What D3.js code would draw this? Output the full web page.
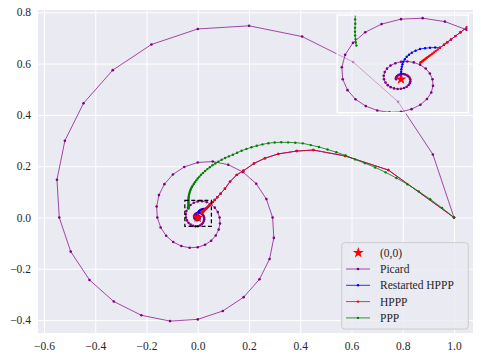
<!DOCTYPE html>
<html><head><meta charset="utf-8">
<script src="https://cdn.jsdelivr.net/npm/d3@7"></script>
<style>body{margin:0;background:#fff} svg text{font-family:"Liberation Serif","Times New Roman",serif;}</style></head>
<body>
<svg id="c" width="481" height="359"></svg>
<script>
// ---------------- data ----------------
const xTicks = [-0.6, -0.4, -0.2, 0.0, 0.2, 0.4, 0.6, 0.8, 1.0];
const yTicks = [-0.4, -0.2, 0.0, 0.2, 0.4, 0.6, 0.8];
const seriesNames = ["(0,0)", "Picard", "Restarted HPPP", "HPPP", "PPP"];
const originX = [0];
const originY = [0];

const picardX = [1, .9176, .7816, .6063, .4073, .2003, 0, -.1807, -.3317, -.4457, -.5185, -.5494, -.5404, -.4958, -.4223, -.3276, -.2201, -.1082, 0, .0977, .1792, .2408, .2802, .2969,
 .2920, .2679, .2282, .1770, .1189, .0585, 0, -.0528, -.0969, -.1301, -.1514, -.1604, -.1578, -.1448, -.1233, -.0957, -.0643, -.0316, 0, .0285, .0523, .0703, .0818, .0867,
 .0853, .0782, .0666, .0517, .0347, .0171, 0, -.0154, -.0283, -.0380, -.0442, -.0468, -.0461, -.0423, -.0360, -.0279, -.0188, -.0092, 0, .0083, .0153, .0205, .0239, .0253,
 .0249, .0228, .0195, .0151, .0101, .0050, 0, -.0045, -.0083, -.0111, -.0129, -.0137, -.0135, -.0123, -.0105, -.0082, -.0055, -.0027, 0, .0024, .0045, .0060, .0070, .0074,
 .0073, .0067, .0057, .0044, .0030, .0015, 0, -.0013, -.0024, -.0032, -.0038, -.0040, -.0039];
const picardY = [0, .2459, .4513, .6063, .7054, .7474, .7351, .6745, .5745, .4457, .2994, .1472, 0, -.1329, -.2438, -.3276, -.3812, -.4039, -.3972, -.3645, -.3105, -.2408, -.1618, -.0796,
 0, .0718, .1318, .1770, .2059, .2182, .2146, .1970, .1678, .1301, .0874, .0430, 0, -.0388, -.0712, -.0957, -.1113, -.1179, -.1160, -.1064, -.0906, -.0703, -.0472, -.0232,
 0, .0210, .0385, .0517, .0601, .0637, .0627, .0575, .0490, .0380, .0255, .0126, 0, -.0113, -.0208, -.0279, -.0325, -.0344, -.0339, -.0311, -.0265, -.0205, -.0138, -.0068,
 0, .0061, .0112, .0151, .0176, .0186, .0183, .0168, .0143, .0111, .0075, .0037, 0, -.0033, -.0061, -.0082, -.0095, -.0101, -.0099, -.0091, -.0077, -.0060, -.0040, -.0020,
 0, .0018, .0033, .0044, .0051, .0054, .0053, .0049, .0042, .0032, .0022, .0011, 0];

const restartX = [1, .7436, .575, .451, .386, .314, .262, .2195, .178, .152, .126, .106, .089, .076, .066, .058, .052, .047, .043, .0395, .0365, .034, .0308,
 .027, .0229, .019, .0150, .0115, .0085, .0063, .0045, .0030, .0018, .0011, .0006, .0003, .0001, 0, 0, 0, 0];
const restartY = [0, .1852, .240, .263, .259, .248, .231, .211, .182, .166, .140, .112, .093, .079, .068, .060, .054, .049, .045, .0415, .0385, .036, .0329,
 .0331, .0329, .0324, .0316, .0298, .0277, .0256, .0235, .0209, .0183, .0157, .0131, .0105, .0079, .0055, .0033, .0015, .0005];

const hpppX = [1, .7436, .575, .451, .386, .314, .262, .2195, .178, .152, .126, .106, .089, .076, .066, .058, .052, .047, .043, .0395,
 .0365, .034, .0308, .0290, .0274, .0260, .0247, .0235, .0224, .0214, .0205, .0196, .0188, .0181, .0174, .0168, .0162, .0157, .0152];
const hpppY = [0, .1852, .240, .263, .259, .248, .231, .211, .182, .166, .140, .112, .093, .079, .068, .060, .054, .049, .045, .0415,
 .0385, .036, .0329, .0310, .0294, .0280, .0267, .0255, .0244, .0234, .0225, .0216, .0208, .0201, .0194, .0188, .0182, .0177, .0172];

const pppX = [1, .9533, .9073, .8622, .8181, .7750, .7330, .6922, .6525, .6140, .5769, .5410, .5064, .4730, .4410, .4101, .3808, .3526, .3258, .3001,
 .2757, .2524, .2304, .2096, .1898, .1712, .1536, .1370, .1214, .1068, .0931, .0804, .0685, .0574, .0471, .0375, .0287, .0206, .0131, .0063,
 0, -.0057, -.0109, -.0155, -.0197, -.0234, -.0268, -.0293, -.0312, -.0329, -.0341, -.0351, -.0357, -.0361, -.0362, -.0363, -.0362, -.0364, -.0364, -.0363, -.0360, -.0358, -.0353];
const pppY = [0, .0375, .0714, .1020, .1296, .1542, .1760, .1952, .2120, .2265, .2419, .2544, .2650, .2749, .2822, .2891, .2917, .2930, .2932, .2924,
 .2897, .2851, .2798, .2738, .2672, .2602, .2526, .2446, .2383, .2318, .2249, .2178, .2108, .2035, .1960, .1887, .1812, .1739, .1665, .1592,
 .1520, .1449, .1379, .1311, .1243, .1178, .1114, .1052, .0992, .0933, .0877, .0822, .0770, .0719, .0670, .0624, .0579, .0536, .0495, .0456, .0419, .0384, .0351];

// zoom window (inset limits)
const insetXLim = [-0.0504, 0.0532];
const insetYLim = [-0.0348, 0.0670];

// ---------------- drawing ----------------
const FONT = '"Liberation Serif", "Times New Roman", serif';
const svg = d3.select('#c');
const P = {l: 38, r: 473, t: 10, b: 333};
const x = d3.scaleLinear().domain([-0.6234, 1.0741]).range([P.l, P.r]);
const y = d3.scaleLinear().domain([-0.4503, 0.809]).range([P.b, P.t]);

svg.append('rect').attr('x', P.l).attr('y', P.t).attr('width', P.r - P.l).attr('height', P.b - P.t).attr('fill', '#eaeaf2');

const fmt = d3.format('.1f');
const gx = svg.append('g').attr('transform', `translate(0,${P.b})`)
  .call(d3.axisBottom(x).tickValues(xTicks).tickSize(-(P.b - P.t)).tickPadding(9).tickFormat(fmt));
const gy = svg.append('g').attr('transform', `translate(${P.l},0)`)
  .call(d3.axisLeft(y).tickValues(yTicks).tickSize(-(P.r - P.l)).tickPadding(7).tickFormat(fmt));
[gx, gy].forEach(g => {
  g.attr('font-family', null).attr('font-size', null);
  g.select('.domain').remove();
  g.selectAll('.tick line').attr('stroke', '#ffffff').attr('stroke-width', 1);
  g.selectAll('.tick text').style('font-family', FONT).style('font-size', '11.5px').attr('fill', '#262626');
});

const defs = svg.append('defs');
defs.append('clipPath').attr('id', 'mainclip').append('rect')
  .attr('x', P.l).attr('y', P.t).attr('width', P.r - P.l).attr('height', P.b - P.t);

const styles = {
  picard: {color: '#800080', lineOp: 0.7, r: 1.3},
  restart: {color: '#0000ff', lineOp: 0.8, r: 1.2},
  hppp: {color: '#ff0000', lineOp: 0.8, r: 1.2},
  ppp: {color: '#008000', lineOp: 0.8, r: 1.2}
};

function drawSeries(g, xs, ys, sx, sy, st) {
  const pts = xs.map((v, i) => [v, ys[i]]);
  const line = d3.line().x(d => sx(d[0])).y(d => sy(d[1]));
  g.append('path').datum(pts).attr('d', line).attr('fill', 'none')
    .attr('stroke', st.color).attr('stroke-opacity', st.lineOp).attr('stroke-width', 1);
  g.append('g').selectAll('circle').data(pts).join('circle')
    .attr('cx', d => sx(d[0])).attr('cy', d => sy(d[1])).attr('r', st.r)
    .attr('fill', st.color);
}
function drawAll(g, sx, sy) {
  drawSeries(g, picardX, picardY, sx, sy, styles.picard);
  drawSeries(g, restartX, restartY, sx, sy, styles.restart);
  drawSeries(g, hpppX, hpppY, sx, sy, styles.hppp);
  drawSeries(g, pppX, pppY, sx, sy, styles.ppp);
  g.selectAll('path.star').data(originX.map((v, i) => [v, originY[i]])).join('path')
    .attr('class', 'star')
    .attr('d', d3.symbol().type(d3.symbolStar).size(38))
    .attr('transform', d => `translate(${sx(d[0])},${sy(d[1])})`)
    .attr('fill', '#ff0000');
}

const main = svg.append('g').attr('clip-path', 'url(#mainclip)');
drawAll(main, x, y);

// dashed zoom box
svg.append('rect')
  .attr('x', x(insetXLim[0])).attr('y', y(insetYLim[1]))
  .attr('width', x(insetXLim[1]) - x(insetXLim[0])).attr('height', y(insetYLim[0]) - y(insetYLim[1]))
  .attr('fill', 'none').attr('stroke', '#000').attr('stroke-width', 1.2).attr('stroke-dasharray', '4,2.5');

// inset
const I = {l: 337.3, r: 468.3, t: 15, b: 112.7};
const ix = d3.scaleLinear().domain(insetXLim).range([I.l, I.r]);
const iy = d3.scaleLinear().domain(insetYLim).range([I.b, I.t]);
defs.append('clipPath').attr('id', 'insetclip').append('rect')
  .attr('x', I.l).attr('y', I.t).attr('width', I.r - I.l).attr('height', I.b - I.t);
svg.append('rect').attr('x', I.l).attr('y', I.t).attr('width', I.r - I.l).attr('height', I.b - I.t)
  .attr('fill', '#eaeaf2').attr('fill-opacity', 0.55);
const inset = svg.append('g').attr('clip-path', 'url(#insetclip)');
drawAll(inset, ix, iy);
svg.append('rect').attr('x', I.l).attr('y', I.t).attr('width', I.r - I.l).attr('height', I.b - I.t)
  .attr('fill', 'none').attr('stroke', '#ffffff').attr('stroke-width', 1.5);

// legend
const L = {x: 341.7, y: 242.7, w: 126.6, h: 86.3};
const lg = svg.append('g');
lg.append('rect').attr('x', L.x).attr('y', L.y).attr('width', L.w).attr('height', L.h).attr('rx', 3)
  .attr('fill', '#eaeaf2').attr('fill-opacity', 0.8).attr('stroke', '#cccccc').attr('stroke-width', 1);
const legendStyles = [null, styles.picard, styles.restart, styles.hppp, styles.ppp];
seriesNames.forEach((name, i) => {
  const cy = L.y + 10 + i * 16.3;
  if (i === 0) {
    lg.append('path').attr('d', d3.symbol().type(d3.symbolStar).size(38)())
      .attr('transform', `translate(358.3,${cy})`).attr('fill', '#ff0000');
  } else {
    const st = legendStyles[i];
    lg.append('line').attr('x1', 346).attr('x2', 370).attr('y1', cy).attr('y2', cy)
      .attr('stroke', st.color).attr('stroke-opacity', st.lineOp).attr('stroke-width', 1);
    lg.append('circle').attr('cx', 358).attr('cy', cy).attr('r', st.r).attr('fill', st.color);
  }
  lg.append('text').attr('x', 380).attr('y', cy + 4).text(name)
    .style('font-family', FONT).style('font-size', '11.5px').attr('fill', '#262626');
});
</script>
</body></html>
